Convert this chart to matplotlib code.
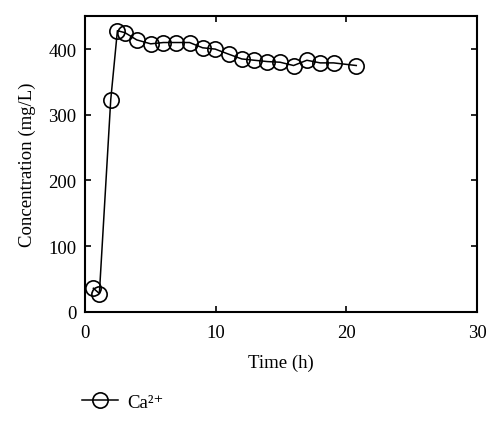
import matplotlib
matplotlib.use("Agg")
import matplotlib.pyplot as plt

# Ca2+ concentration over time
time_h = [0.64, 1.1, 1.97, 2.48, 3.06, 3.96, 5.03, 6.0, 6.97, 8.0, 9.0,
          9.96, 11.03, 12.0, 12.97, 13.96, 14.93, 15.96, 16.98, 18.0, 19.02, 20.76]
ca_mgL = [36, 28, 323, 428, 425, 414, 408, 410, 410, 410, 402,
          400, 392, 385, 383, 381, 380, 375, 383, 379, 379, 375]

x_ticks = [0, 10, 20, 30]
y_ticks = [0, 100, 200, 300, 400]

plt.rcParams['font.family'] = ['Liberation Serif', 'DejaVu Serif']

fig = plt.figure(figsize=(5.0, 4.31), dpi=100)
ax = fig.add_axes([0.17, 0.274, 0.784, 0.686])

line, = ax.plot(time_h, ca_mgL, color="black", lw=1.1, marker="o",
                markersize=11, markerfacecolor="none", markeredgecolor="black",
                markeredgewidth=1.2, label="Ca²⁺")

ax.set_xlim(0, 30)
ax.set_ylim(0, 450)
ax.set_xticks(x_ticks)
ax.set_yticks(y_ticks)
ax.tick_params(direction="in", top=True, right=True, length=4, width=1.2,
               labelsize=13.5)
ax.tick_params(axis="x", pad=9)
ax.tick_params(axis="y", pad=6)
for s in ax.spines.values():
    s.set_linewidth(1.5)

ax.set_xlabel("Time (h)", fontsize=13.5, labelpad=9)
ax.set_ylabel("Concentration (mg/L)", fontsize=13.5, labelpad=9)

fig.legend(handles=[line], loc="center left", bbox_to_anchor=(0.13, 0.064),
           frameon=False, fontsize=13.5, handlelength=1.9, handletextpad=0.5)

fig.savefig("out.png", dpi=100)
